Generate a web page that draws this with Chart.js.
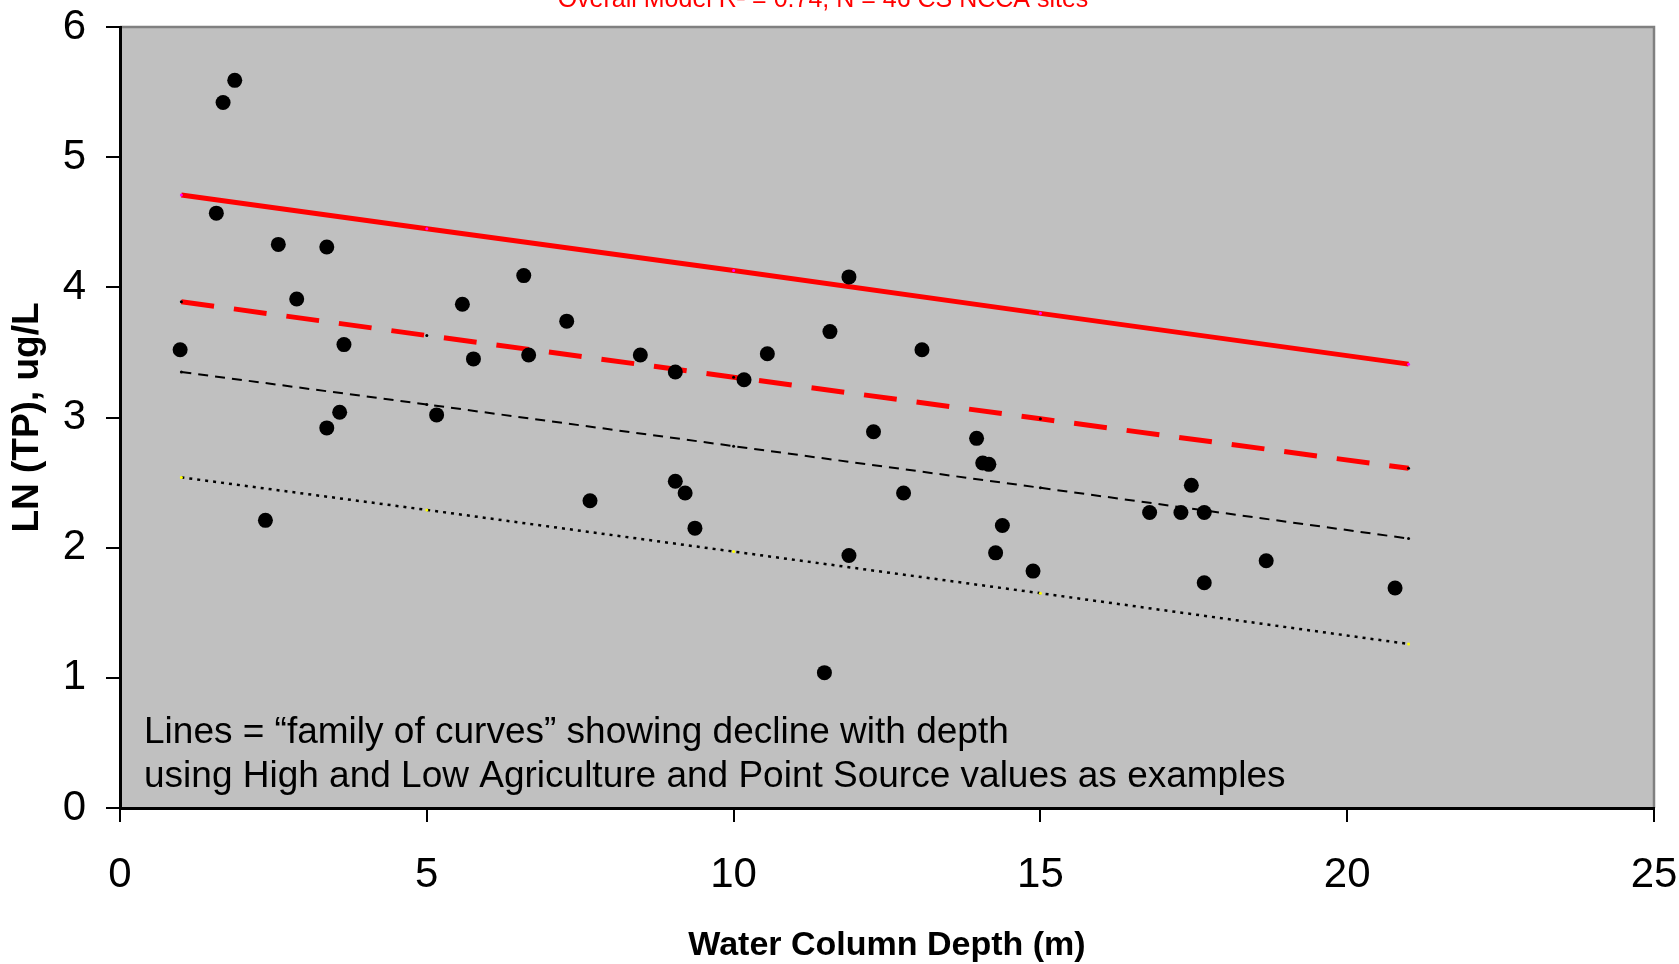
<!DOCTYPE html>
<html>
<head>
<meta charset="utf-8">
<script src="https://cdn.jsdelivr.net/npm/chart.js@4"></script>
<style>
  body { margin: 0; background: #fff; }
  #wrap { width: 1679px; height: 964px; position: relative; }
</style>
</head>
<body>
<div id="wrap"><canvas id="depthChart"></canvas></div>
<script>
// site observations: water column depth (m) vs LN(TP)
var depth = [0.98, 1.68, 1.87, 1.57, 2.58, 3.37, 2.88, 3.65, 3.37, 3.58, 2.37,
    5.16, 5.58, 5.76, 6.58, 6.66, 7.28, 7.66, 8.48, 9.05, 9.05, 9.21, 9.37,
    10.17, 10.55, 11.48, 11.57, 11.88, 11.88, 12.28, 12.77, 13.07, 13.96,
    14.06, 14.16, 14.27, 14.38, 14.88, 16.78, 17.29, 17.46, 17.67, 17.67,
    18.68, 20.78];
var lnTP = [3.52, 5.42, 5.59, 4.57, 4.33, 4.31, 3.91, 3.56, 2.92, 3.04, 2.21,
    3.02, 3.87, 3.45, 4.09, 3.48, 3.74, 2.36, 3.48, 3.35, 2.51, 2.42, 2.15,
    3.29, 3.49, 1.04, 3.66, 4.08, 1.94, 2.89, 2.42, 3.52, 2.84,
    2.65, 2.64, 1.96, 2.17, 1.82, 2.27, 2.27, 2.48, 2.27, 1.73,
    1.90, 1.69];

// family of curves, evaluated at these depths
var curveDepth = [1, 5, 10, 15, 21];
var curveHigh = [4.71, 4.45, 4.13, 3.80, 3.41];
var curveMidHigh = [3.89, 3.63, 3.31, 2.99, 2.61];
var curveMidLow = [3.35, 3.10, 2.78, 2.46, 2.07];
var curveLow = [2.54, 2.29, 1.97, 1.65, 1.26];

var xTicks = [0, 5, 10, 15, 20, 25];
var yTicks = [0, 1, 2, 3, 4, 5, 6];

var titleText = 'Overall Model R\u00B2 = 0.74, N = 46 CS NCCA sites';
var noteLines = [
    'Lines = \u201Cfamily of curves\u201D showing decline with depth',
    'using High and Low Agriculture and Point Source values as examples'
];

var FONT = "'Liberation Sans', Arial, sans-serif";

function toXY(xs, ys) {
    var out = [];
    for (let i = 0; i < xs.length; i++) {
        out.push({ x: xs[i], y: ys[i] });
    }
    return out;
}

function curve(label, values, color, width, dash, dotColor) {
    return {
        label: label,
        data: toXY(curveDepth, values),
        showLine: true,
        borderColor: color,
        borderWidth: width,
        borderDash: dash,
        pointRadius: 1.5,
        pointBorderWidth: 0,
        pointBackgroundColor: dotColor,
        order: 2
    };
}

// gray plot area plus the gray top / right frame
const plotBackground = {
    id: 'plotBackground',
    beforeDraw(chart) {
        const { ctx, chartArea: a } = chart;
        ctx.save();
        ctx.fillStyle = '#c0c0c0';
        ctx.fillRect(a.left, a.top, a.right - a.left, a.bottom - a.top);
        ctx.strokeStyle = '#808080';
        ctx.lineWidth = 2.5;
        ctx.beginPath();
        ctx.moveTo(a.left, a.top);
        ctx.lineTo(a.right, a.top);
        ctx.lineTo(a.right, a.bottom);
        ctx.stroke();
        ctx.restore();
    }
};

const textNotes = {
    id: 'textNotes',
    afterDraw(chart) {
        const ctx = chart.ctx;
        ctx.save();
        ctx.textBaseline = 'alphabetic';
        ctx.fillStyle = '#ff0000';
        ctx.textAlign = 'center';
        ctx.font = '25px ' + FONT;
        ctx.fillText(titleText, 823, 7);
        ctx.fillStyle = '#000';
        ctx.textAlign = 'left';
        ctx.font = '37px ' + FONT;
        ctx.fillText(noteLines[0], 144, 743);
        ctx.fillText(noteLines[1], 144, 787);
        ctx.restore();
    }
};

new Chart(document.getElementById('depthChart'), {
    type: 'scatter',
    data: {
        datasets: [
            {
                label: 'sites',
                data: toXY(depth, lnTP),
                pointRadius: 7.5,
                pointBackgroundColor: '#000',
                pointBorderWidth: 0,
                order: 1
            },
            curve('high', curveHigh, '#ff0000', 5, [], '#ff00ff'),
            curve('mid high', curveMidHigh, '#ff0000', 5, [33, 20], '#000'),
            curve('mid low', curveMidLow, '#000', 2, [10, 7], '#000'),
            curve('low', curveLow, '#000', 2.5, [3, 5], '#ffff00')
        ]
    },
    options: {
        responsive: true,
        maintainAspectRatio: false,
        animation: false,
        events: [],
        layout: { padding: { top: 27, right: 25, left: 0, bottom: 0 } },
        plugins: {
            legend: { display: false },
            tooltip: { enabled: false }
        },
        scales: {
            x: {
                min: 0,
                max: 25,
                afterFit(scale) {
                    scale.height = 156;
                    scale.paddingLeft = 0;
                    scale.paddingRight = 0;
                },
                afterBuildTicks(scale) { scale.ticks = xTicks.map(v => ({ value: v })); },
                border: { color: '#000', width: 3 },
                grid: { drawOnChartArea: false, drawTicks: true, tickLength: 14, color: '#000', lineWidth: 2 },
                ticks: { color: '#000', padding: 28, maxRotation: 0, font: { family: FONT, size: 42 } },
                title: {
                    display: true,
                    text: 'Water Column Depth (m)',
                    color: '#000',
                    padding: { top: 0, bottom: 0 },
                    font: { family: FONT, size: 34, weight: 'bold', lineHeight: 1.1 }
                }
            },
            y: {
                min: 0,
                max: 6,
                afterFit(scale) {
                    scale.width = 120;
                    scale.paddingTop = 0;
                    scale.paddingBottom = 0;
                },
                afterBuildTicks(scale) { scale.ticks = yTicks.map(v => ({ value: v })); },
                border: { color: '#000', width: 3 },
                grid: { drawOnChartArea: false, drawTicks: true, tickLength: 14, color: '#000', lineWidth: 2 },
                ticks: { color: '#000', padding: 20, font: { family: FONT, size: 42 } },
                title: {
                    display: true,
                    text: 'LN (TP), ug/L',
                    color: '#000',
                    padding: { top: 6, bottom: 0 },
                    font: { family: FONT, size: 37, weight: 'bold', lineHeight: 1.2 }
                }
            }
        }
    },
    plugins: [plotBackground, textNotes]
});
</script>
</body>
</html>
